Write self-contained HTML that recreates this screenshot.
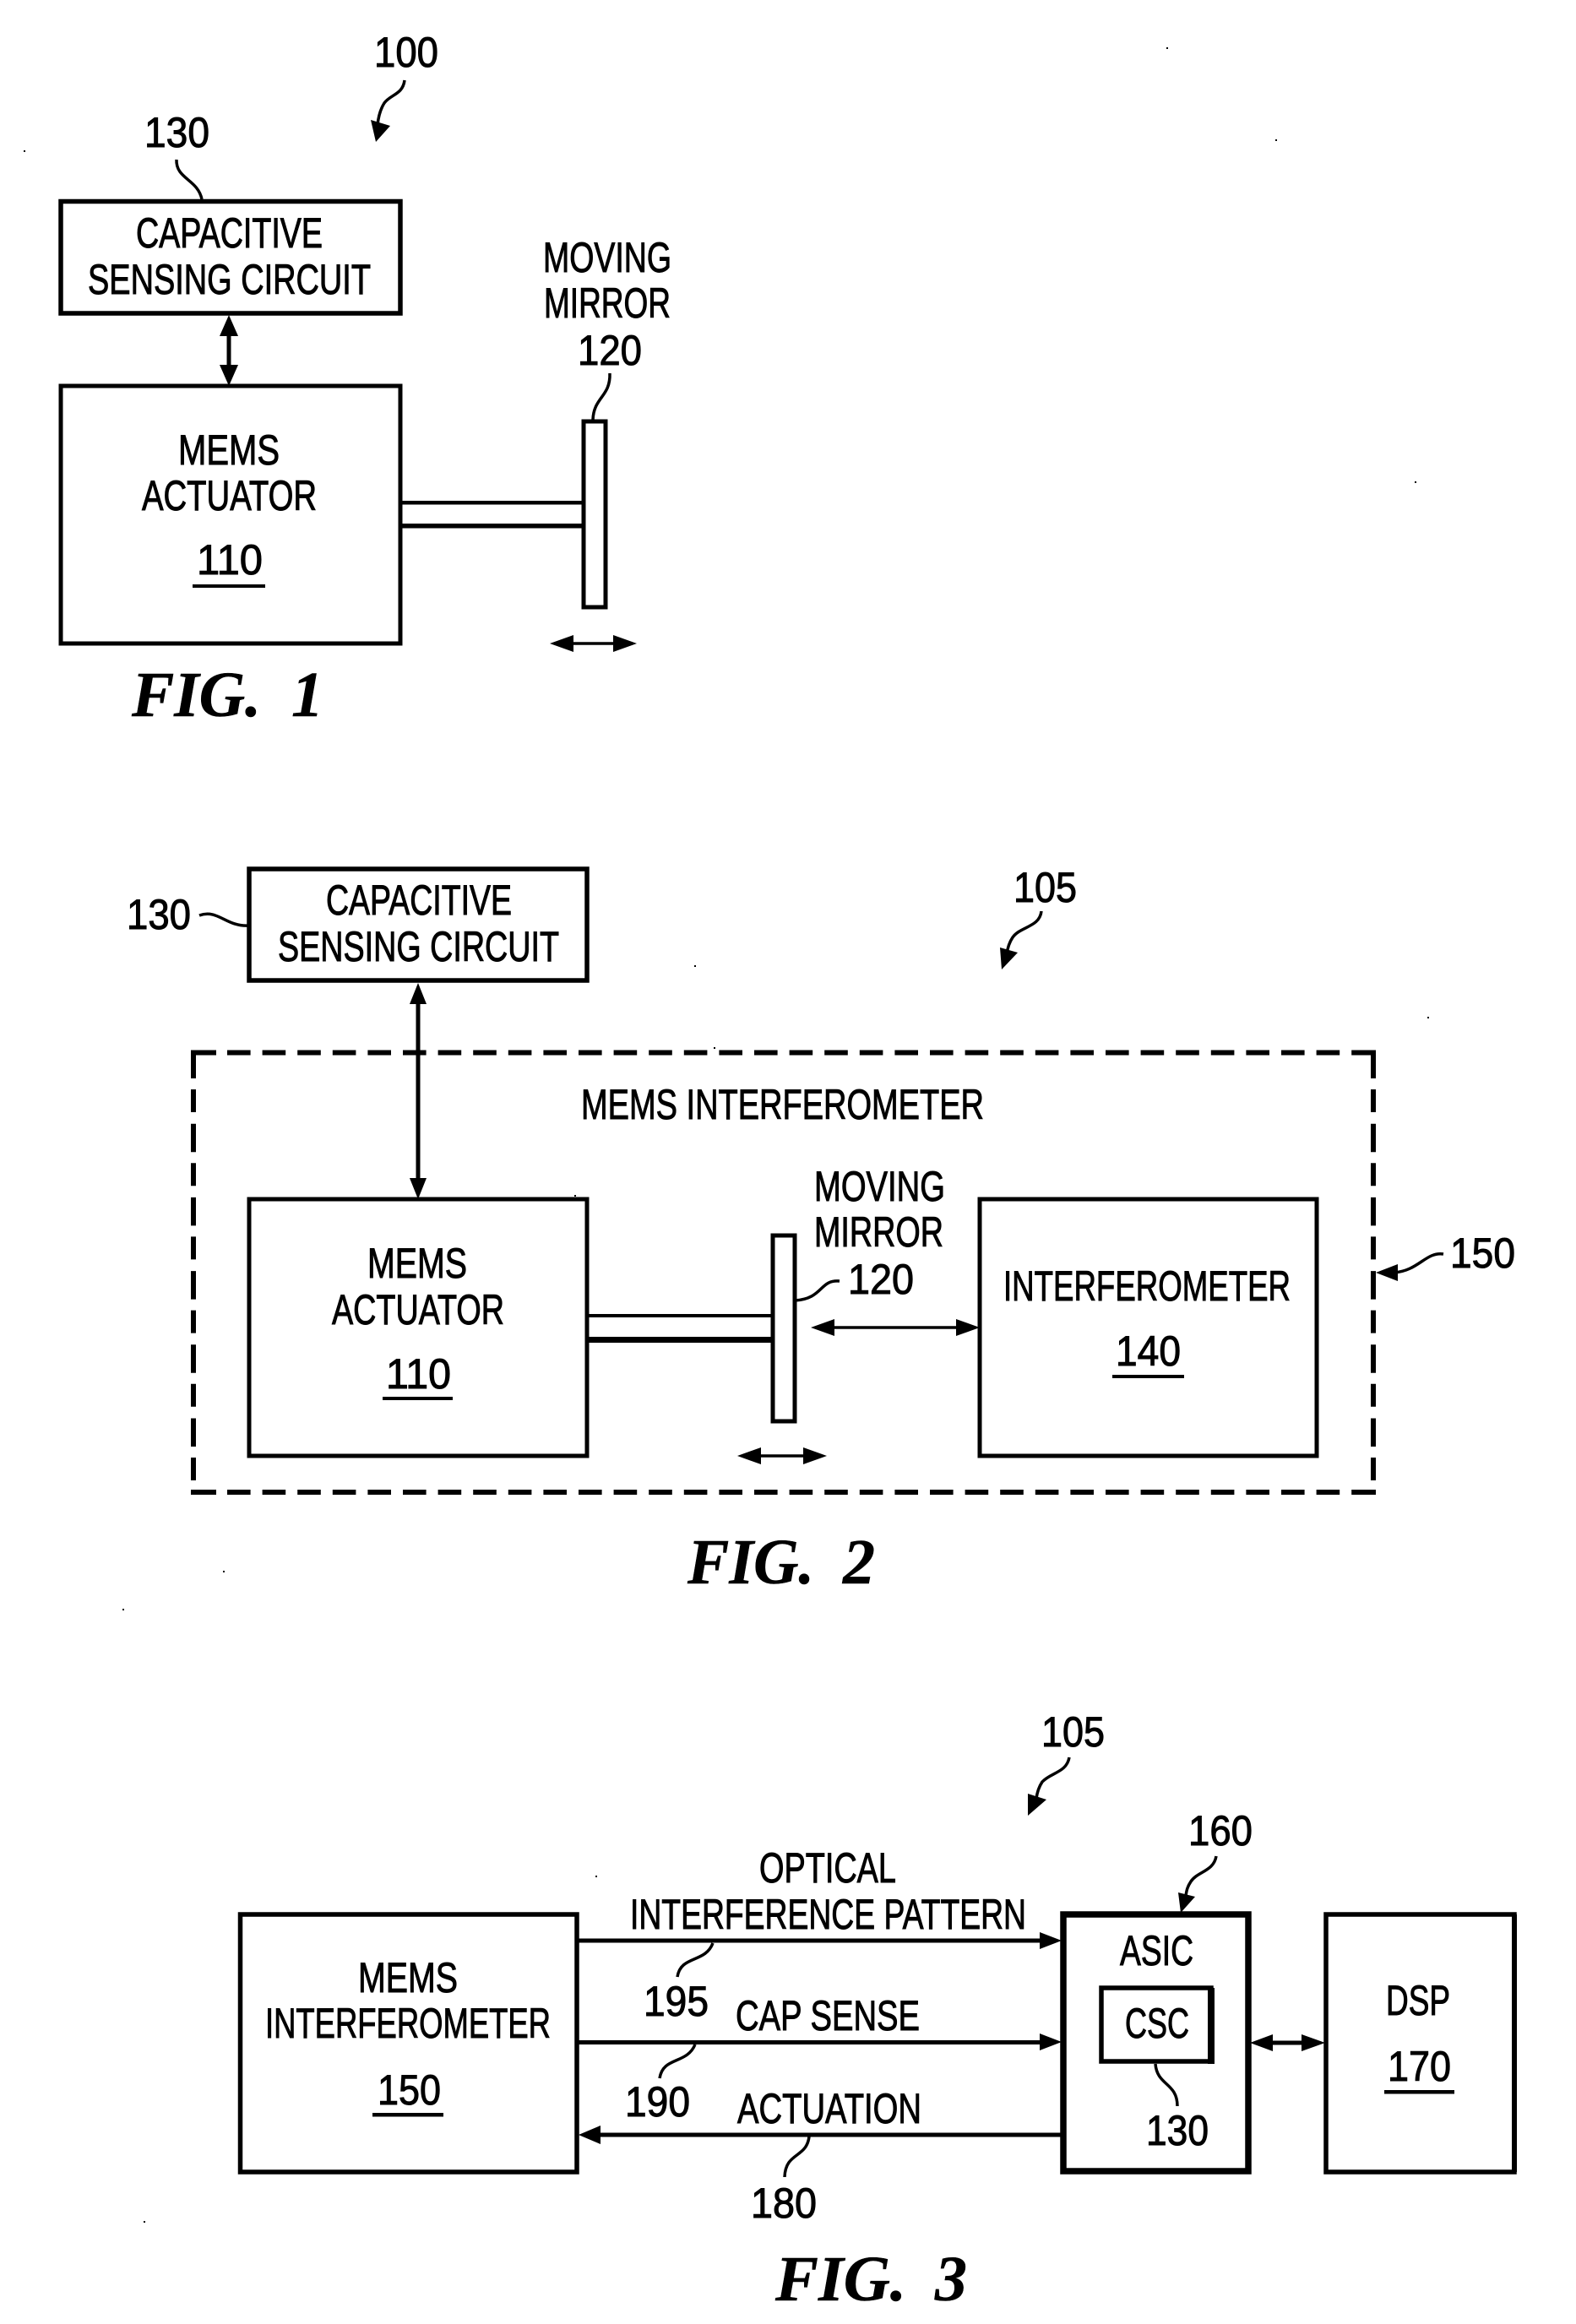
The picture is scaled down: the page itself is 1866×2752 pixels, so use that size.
<!DOCTYPE html>
<html>
<head>
<meta charset="utf-8">
<style>
html,body{margin:0;padding:0;background:#fff}
svg{display:block}
text{font-family:"Liberation Sans",sans-serif;font-size:50px;fill:#000;stroke:#000;stroke-width:1px}
.fig{font-family:"Liberation Serif",serif;font-style:italic;font-weight:bold;font-size:76px;stroke:#000;stroke-width:.5px}
.b{fill:#fff;stroke:#000}
.l{fill:none;stroke:#000;stroke-width:3.5}
</style>
</head>
<body>
<svg xmlns="http://www.w3.org/2000/svg" width="1866" height="2752" viewBox="0 0 1866 2752">
<rect width="1866" height="2752" fill="#fff"/>

<!-- specks -->
<g fill="#000">
<rect x="1381" y="56" width="2" height="2"/><rect x="28" y="178" width="2" height="2"/>
<rect x="1675" y="570" width="2" height="2"/><rect x="1510" y="165" width="2" height="2"/>
<rect x="221" y="637" width="2" height="2"/><rect x="845" y="1240" width="2" height="2"/>
<rect x="822" y="1143" width="2" height="2"/><rect x="680" y="1415" width="2" height="2"/>
<rect x="620" y="1697" width="2" height="2"/><rect x="1690" y="1204" width="2" height="2"/>
<rect x="145" y="1905" width="2" height="2"/><rect x="264" y="1860" width="2" height="2"/>
<rect x="705" y="2221" width="2" height="2"/><rect x="170" y="2630" width="2" height="2"/>
</g>

<!-- FIG 1 -->
<text x="443" y="79" textLength="76" lengthAdjust="spacingAndGlyphs">100</text>
<path class="l" d="M479 95C477 112 462 112 455 122C450 130 448 138 447 148"/>
<polygon points="445,168 439,142 462,149"/>
<text x="171" y="174" textLength="77" lengthAdjust="spacingAndGlyphs">130</text>
<path class="l" d="M209 189C208 212 234 212 239 236"/>
<rect class="b" x="72" y="238.5" width="402" height="132.5" stroke-width="5.5"/>
<text x="161" y="293" textLength="221" lengthAdjust="spacingAndGlyphs">CAPACITIVE</text>
<text x="104" y="348" textLength="335" lengthAdjust="spacingAndGlyphs">SENSING CIRCUIT</text>
<path d="M271 385V445" stroke="#000" stroke-width="5" fill="none"/>
<polygon points="271,373 260,398 282,398"/>
<polygon points="271,457 260,432 282,432"/>
<rect class="b" x="72" y="457" width="402" height="305" stroke-width="5"/>
<text x="211" y="550" textLength="120" lengthAdjust="spacingAndGlyphs">MEMS</text>
<text x="168" y="604" textLength="207" lengthAdjust="spacingAndGlyphs">ACTUATOR</text>
<text x="233" y="680" textLength="78" lengthAdjust="spacingAndGlyphs">110</text>
<rect x="228" y="692" width="86" height="4"/>
<rect x="474" y="593" width="217" height="4.5"/>
<rect x="474" y="620" width="217" height="5.5"/>
<rect class="b" x="691" y="499" width="26" height="220" stroke-width="5"/>
<text x="643" y="322" textLength="152" lengthAdjust="spacingAndGlyphs">MOVING</text>
<text x="644" y="376" textLength="150" lengthAdjust="spacingAndGlyphs">MIRROR</text>
<text x="684" y="432" textLength="76" lengthAdjust="spacingAndGlyphs">120</text>
<path class="l" d="M722 442C723 470 703 470 702 497"/>
<path d="M670 762H735" stroke="#000" stroke-width="3.5"/>
<polygon points="651,762 679,752 679,772"/>
<polygon points="754,762 726,752 726,772"/>
<text class="fig" x="156" y="848" textLength="153" lengthAdjust="spacingAndGlyphs">FIG.</text>
<text class="fig" x="345" y="848">1</text>

<!-- FIG 2 -->
<text x="1200" y="1068" textLength="75" lengthAdjust="spacingAndGlyphs">105</text>
<path class="l" d="M1233 1079C1231 1098 1208 1097 1199 1110C1195 1116 1193 1122 1192 1130"/>
<polygon points="1186,1148 1184,1122 1205,1128"/>
<text x="150" y="1100" textLength="76" lengthAdjust="spacingAndGlyphs">130</text>
<path class="l" d="M236 1084C258 1076 268 1098 295 1096"/>
<rect class="b" x="295" y="1029" width="400" height="132" stroke-width="5.5"/>
<text x="386" y="1083" textLength="220" lengthAdjust="spacingAndGlyphs">CAPACITIVE</text>
<text x="329" y="1138" textLength="333" lengthAdjust="spacingAndGlyphs">SENSING CIRCUIT</text>
<g stroke="#000" stroke-width="6" fill="none">
<path d="M226 1246.5H1629" stroke-dasharray="30 13 27.6 14 27.6 14 27.6 14 27.6 14 27.6 14 27.6 14 27.6 14 27.6 14 27.6 14 27.6 14 27.6 14 27.6 14 27.6 14 27.6 14 27.6 14 27.6 14 27.6 14 27.6 14 27.6 14 27.6 14 27.6 14 27.6 14 27.6 14 27.6 14 27.6 14 27.6 14 27.6 14 27.6 14 27.6 14 27.6 14 27.6 14 27.6 14"/>
<path d="M226 1767H1629" stroke-dasharray="30 13 27.6 14 27.6 14 27.6 14 27.6 14 27.6 14 27.6 14 27.6 14 27.6 14 27.6 14 27.6 14 27.6 14 27.6 14 27.6 14 27.6 14 27.6 14 27.6 14 27.6 14 27.6 14 27.6 14 27.6 14 27.6 14 27.6 14 27.6 14 27.6 14 27.6 14 27.6 14 27.6 14 27.6 14 27.6 14 27.6 14 27.6 14 27.6 14"/>
<path d="M229 1243.5V1770" stroke-dasharray="33.5 13 27 13.7"/>
<path d="M1626 1243.5V1770" stroke-dasharray="33.5 13 27 13.7"/>
</g>
<path d="M495 1176V1408" stroke="#000" stroke-width="5" fill="none"/>
<polygon points="495,1164 485,1189 505,1189"/>
<polygon points="495,1420 485,1395 505,1395"/>
<text x="688" y="1325" textLength="477" lengthAdjust="spacingAndGlyphs">MEMS INTERFEROMETER</text>
<rect class="b" x="295" y="1420" width="400" height="304" stroke-width="5"/>
<text x="435" y="1513" textLength="118" lengthAdjust="spacingAndGlyphs">MEMS</text>
<text x="393" y="1568" textLength="204" lengthAdjust="spacingAndGlyphs">ACTUATOR</text>
<text x="457" y="1644" textLength="77" lengthAdjust="spacingAndGlyphs">110</text>
<rect x="453" y="1654" width="83" height="4"/>
<rect x="695" y="1556" width="220" height="4"/>
<rect x="695" y="1583" width="220" height="7"/>
<rect class="b" x="915" y="1463" width="26" height="220" stroke-width="5"/>
<path d="M892 1724H960" stroke="#000" stroke-width="3.5"/>
<polygon points="873,1724 901,1714 901,1734"/>
<polygon points="979,1724 951,1714 951,1734"/>
<text x="964" y="1422" textLength="155" lengthAdjust="spacingAndGlyphs">MOVING</text>
<text x="964" y="1476" textLength="153" lengthAdjust="spacingAndGlyphs">MIRROR</text>
<text x="1004" y="1532" textLength="78" lengthAdjust="spacingAndGlyphs">120</text>
<path class="l" d="M994 1517C970 1515 975 1538 941 1540"/>
<path d="M980 1572H1140" stroke="#000" stroke-width="3.5"/>
<polygon points="960,1572 988,1562 988,1582"/>
<polygon points="1160,1572 1132,1562 1132,1582"/>
<rect class="b" x="1160" y="1420" width="399" height="304" stroke-width="5"/>
<text x="1188" y="1540" textLength="340" lengthAdjust="spacingAndGlyphs">INTERFEROMETER</text>
<text x="1321" y="1617" textLength="77" lengthAdjust="spacingAndGlyphs">140</text>
<rect x="1317" y="1628" width="85" height="4"/>
<text x="1717" y="1501" textLength="77" lengthAdjust="spacingAndGlyphs">150</text>
<path class="l" d="M1709 1485C1688 1482 1680 1505 1650 1507"/>
<polygon points="1629,1507 1655,1497 1655,1517"/>
<text class="fig" x="814" y="1875" textLength="150" lengthAdjust="spacingAndGlyphs">FIG.</text>
<text class="fig" x="998" y="1875">2</text>

<!-- FIG 3 -->
<text x="1233" y="2068" textLength="75" lengthAdjust="spacingAndGlyphs">105</text>
<path class="l" d="M1266 2081C1263 2099 1244 2099 1234 2110C1230 2116 1228 2122 1227 2130"/>
<polygon points="1217,2150 1217,2124 1239,2131"/>
<text x="1407" y="2185" textLength="76" lengthAdjust="spacingAndGlyphs">160</text>
<path class="l" d="M1440 2198C1437 2216 1418 2216 1410 2228C1406 2234 1405 2238 1404 2245"/>
<polygon points="1398,2265 1395,2241 1415,2246"/>
<rect class="b" x="284.500" y="2267" width="398.500" height="305" stroke-width="5.5"/>
<text x="424" y="2359" textLength="118" lengthAdjust="spacingAndGlyphs">MEMS</text>
<text x="314" y="2413" textLength="338" lengthAdjust="spacingAndGlyphs">INTERFEROMETER</text>
<text x="447" y="2492" textLength="75" lengthAdjust="spacingAndGlyphs">150</text>
<rect x="441" y="2502" width="84" height="4.5"/>
<text x="899" y="2229" textLength="162" lengthAdjust="spacingAndGlyphs">OPTICAL</text>
<text x="746" y="2284" textLength="469" lengthAdjust="spacingAndGlyphs">INTERFERENCE PATTERN</text>
<rect x="683" y="2295.500" width="550" height="5"/>
<polygon points="1257,2298 1231,2288 1231,2308"/>
<text x="762" y="2387" textLength="77" lengthAdjust="spacingAndGlyphs">195</text>
<path class="l" d="M844 2301C835 2325 806 2315 802 2341"/>
<text x="871" y="2404" textLength="218" lengthAdjust="spacingAndGlyphs">CAP SENSE</text>
<rect x="683" y="2416" width="550" height="5"/>
<polygon points="1257,2418 1231,2408 1231,2428"/>
<text x="740" y="2506" textLength="77" lengthAdjust="spacingAndGlyphs">190</text>
<path class="l" d="M823 2421C813 2445 785 2435 781 2461"/>
<text x="873" y="2514" textLength="218" lengthAdjust="spacingAndGlyphs">ACTUATION</text>
<rect x="700" y="2525.500" width="556" height="5"/>
<polygon points="685,2528 711,2517 711,2539"/>
<text x="889" y="2626" textLength="78" lengthAdjust="spacingAndGlyphs">180</text>
<path class="l" d="M958 2530C955 2556 930 2548 929 2578"/>
<rect class="b" x="1259" y="2267" width="219" height="304" stroke-width="7.5"/>
<text x="1326" y="2327" textLength="87" lengthAdjust="spacingAndGlyphs">ASIC</text>
<rect class="b" x="1304" y="2354" width="130" height="87" stroke-width="5.5"/>
<rect x="1430" y="2354" width="8" height="90"/>
<text x="1332" y="2413" textLength="76" lengthAdjust="spacingAndGlyphs">CSC</text>
<text x="1357" y="2540" textLength="74" lengthAdjust="spacingAndGlyphs">130</text>
<path class="l" d="M1368 2444C1370 2470 1394 2466 1394 2494"/>
<path d="M1495 2419H1555" stroke="#000" stroke-width="5"/>
<polygon points="1480,2419 1507,2409 1507,2429"/>
<polygon points="1569,2419 1541,2409 1541,2429"/>
<rect class="b" x="1570" y="2267" width="223" height="305" stroke-width="5.5"/>
<rect x="1790" y="2267" width="6" height="305"/>
<text x="1641" y="2386" textLength="76" lengthAdjust="spacingAndGlyphs">DSP</text>
<text x="1643" y="2464" textLength="75" lengthAdjust="spacingAndGlyphs">170</text>
<rect x="1639" y="2475" width="83" height="4.5"/>
<text class="fig" x="918" y="2724" textLength="155" lengthAdjust="spacingAndGlyphs">FIG.</text>
<text class="fig" x="1107" y="2724">3</text>
</svg>
</body>
</html>
